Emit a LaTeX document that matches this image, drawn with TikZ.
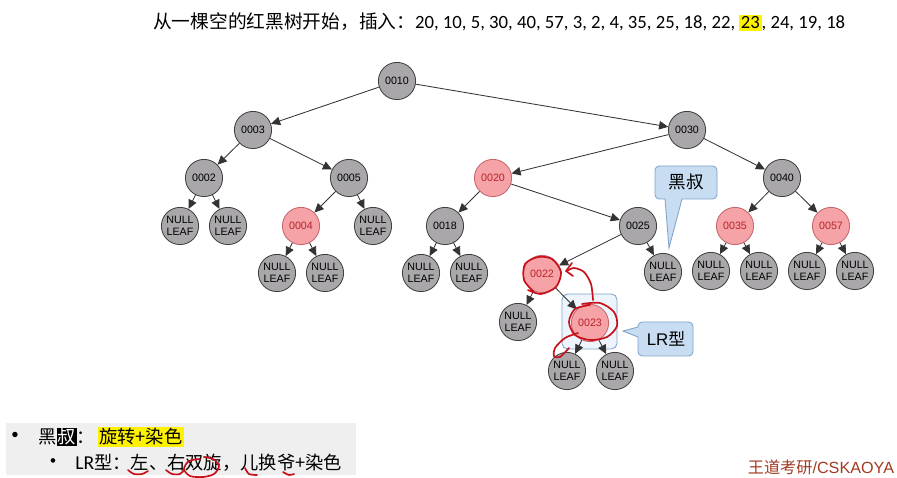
\documentclass[tikz,border=0pt]{standalone}
\usepackage{fontspec}
\setmainfont{Liberation Sans}
\newfontfamily\cjk{Noto Sans CJK SC}
\newfontfamily\cali{Carlito}
\usepackage{tikz}
\usetikzlibrary{arrows.meta, shapes, calc}

\definecolor{nodegray}{HTML}{A9A7AA}
\definecolor{nodered}{HTML}{F5A3A7}
\definecolor{rededge}{HTML}{C4666C}
\definecolor{redtext}{HTML}{B8232B}
\definecolor{tipblue}{HTML}{C9DDF2}
\definecolor{tipedge}{HTML}{7FA3C8}
\definecolor{boxblue}{HTML}{EEF4FB}
\definecolor{pen}{HTML}{C8101A}
\definecolor{wdcolor}{HTML}{A23A22}
\definecolor{bandgray}{HTML}{EFEFEF}
\definecolor{marker}{HTML}{FFF200}

\begin{document}
\begin{tikzpicture}[x=0.025cm,y=-0.025cm]
      \tikzset{rb node/.style={circle,
          inner sep=0pt,
          minimum size=0.93cm,
          draw=black!75,
          line width=0.6pt,
          fill=#1,
          align=center,
          font=\fontsize{7.6}{8.4}\selectfont},
        red node/.style={rb node=nodered, draw=rededge, text=redtext},
        leaf/.style={rb node=nodegray, font=\fontsize{7.6}{8.4}\selectfont},
        link/.style={-{Triangle[length=6.5pt,width=6pt]}, draw=black!80, line width=0.6pt},
        callout box/.style={draw=tipedge, fill=tipblue, line width=0.6pt},
        pen/.style={draw=pen, line width=1.2pt, line cap=round, line join=round}
      }
      \useasboundingbox (0,0) rectangle (897,478);

      \node [anchor=west, font=\fontsize{13.3}{16}\selectfont, inner sep=0pt] (title) at (153,22)
        {{\cjk 从一棵空的红黑树开始，插入：}{\cali 20, 10, 5, 30, 40, 57, 3, 2, 4, 35, 25, 18, 22, {\setlength{\fboxsep}{1.2pt}\colorbox{marker}{23}}, 24, 19, 18}};

      \draw [rounded corners=4pt, draw=tipedge, fill=boxblue, line width=0.6pt] (562,294) rectangle (617,349);

      \node [rb node=nodegray] (n10) at (397,81) {0010};
      \node [rb node=nodegray] (n3) at (253,130) {0003};
      \node [rb node=nodegray] (n30) at (687,130) {0030};
      \node [rb node=nodegray] (n2) at (204,178) {0002};
      \node [rb node=nodegray] (n5) at (349,178) {0005};
      \node [red node] (n20) at (493,178) {0020};
      \node [rb node=nodegray] (n40) at (782,178) {0040};
      \node [red node] (n4) at (301,226) {0004};
      \node [rb node=nodegray] (n18) at (445,226) {0018};
      \node [rb node=nodegray] (n25) at (638,226) {0025};
      \node [red node] (n35) at (735,226) {0035};
      \node [red node] (n57) at (831,226) {0057};
      \node [red node] (n22) at (542,274) {0022};
      \node [red node] (n23) at (590,323) {0023};

      \node [leaf] (l2a) at (180,226) {NULL\\LEAF};
      \node [leaf] (l2b) at (228,226) {NULL\\LEAF};
      \node [leaf] (l5) at (373,226) {NULL\\LEAF};
      \node [leaf] (l4a) at (277,273) {NULL\\LEAF};
      \node [leaf] (l4b) at (325,273) {NULL\\LEAF};
      \node [leaf] (l18a) at (421,273) {NULL\\LEAF};
      \node [leaf] (l18b) at (469,273) {NULL\\LEAF};
      \node [leaf] (l25) at (663,272) {NULL\\LEAF};
      \node [leaf] (l35a) at (711,271) {NULL\\LEAF};
      \node [leaf] (l35b) at (759,271) {NULL\\LEAF};
      \node [leaf] (l57a) at (807,271) {NULL\\LEAF};
      \node [leaf] (l57b) at (855,271) {NULL\\LEAF};
      \node [leaf] (l22) at (518,322) {NULL\\LEAF};
      \node [leaf] (l23a) at (567,371) {NULL\\LEAF};
      \node [leaf] (l23b) at (615,371) {NULL\\LEAF};

      \foreach \a/\b in {n10/n3, n10/n30, n3/n2, n3/n5, n30/n20, n30/n40,
          n2/l2a, n2/l2b, n5/n4, n5/l5, n20/n18, n20/n25, n40/n35, n40/n57,
          n4/l4a, n4/l4b, n18/l18a, n18/l18b, n25/n22, n25/l25,
          n35/l35a, n35/l35b, n57/l57a, n57/l57b, n22/l22, n22/n23,
          n23/l23a, n23/l23b}
        \draw [link] (\a) -- (\b);

      \draw [callout box] (682,199) -- (669,248) -- (665,199) [rounded corners=3pt] -- (655,199)
        -- (655,166) -- (717,166) -- (717,199) [sharp corners] -- cycle;
      \node [font=\cjk\fontsize{12.5}{14}\selectfont] (uncle) at (686,182) {黑叔};
      \draw [callout box] (638,337) -- (623,331) -- (638,327) [rounded corners=3pt] -- (638,322)
        -- (693,322) -- (693,356) -- (638,356) [sharp corners] -- cycle;
      \node [font=\fontsize{12}{14}\selectfont] (lr) at (666,339) {LR{\cjk 型}};

      \draw [pen] plot [smooth] coordinates {(534,292) (524,280) (525,264) (538,257) (552,259) (561,272) (556,287) (541,294) (528,290)};
      \draw [pen] plot [smooth] coordinates {(593,300) (591,284) (584,272) (574,268) (567,271)};
      \draw [pen] (572,263) -- (566,271) -- (573,276);
      \draw [pen] plot [smooth] coordinates {(582,304) (600,303) (614,312) (617,326) (607,337) (590,340) (575,335) (569,322) (575,309) (590,305)};
      \draw [pen] plot [smooth] coordinates {(578,333) (565,338) (555,348) (554,356) (560,357) (569,348)};

      \fill [bandgray] (6,423) rectangle (356,475);
      \node [font=\fontsize{14}{16}\selectfont] (dot1) at (15,437) {•};
      \node [anchor=west, inner sep=0pt, font=\cjk\fontsize{13}{15}\selectfont] (rule1) at (38,437)
        {黑{\setlength{\fboxsep}{0.6pt}\colorbox{black}{\textcolor{white}{叔}}}：\,{\setlength{\fboxsep}{1pt}\colorbox{marker}{旋转+染色}}};
      \node [font=\fontsize{12}{14}\selectfont] (dot2) at (53,463) {•};
      \node [anchor=west, inner sep=0pt, font=\cjk\fontsize{13}{15}\selectfont] (rule2) at (75,463)
        {{\cali\fontsize{14}{15}\selectfont LR}型：左、右双旋，儿换爷+染色};

      \draw [pen] plot [smooth] coordinates {(128,470) (134,474) (142,474) (148,471)};
      \draw [pen] plot [smooth] coordinates {(166,470) (172,474) (180,474) (184,470)};
      \draw [pen] plot [smooth] coordinates {(200,459) (189,461) (184,469) (190,476) (203,477) (214,474) (219,466) (213,459) (204,457)};
      \draw [pen] plot [smooth] coordinates {(245,468) (249,474) (257,475)};
      \draw [pen] plot [smooth] coordinates {(283,472) (289,475) (294,474)};

      \node [anchor=east, text=wdcolor, font=\fontsize{11.5}{13}\selectfont] (brand) at (899,467) {{\cjk 王道考研}/CSKAOYA};
    \end{tikzpicture}
\end{document}
